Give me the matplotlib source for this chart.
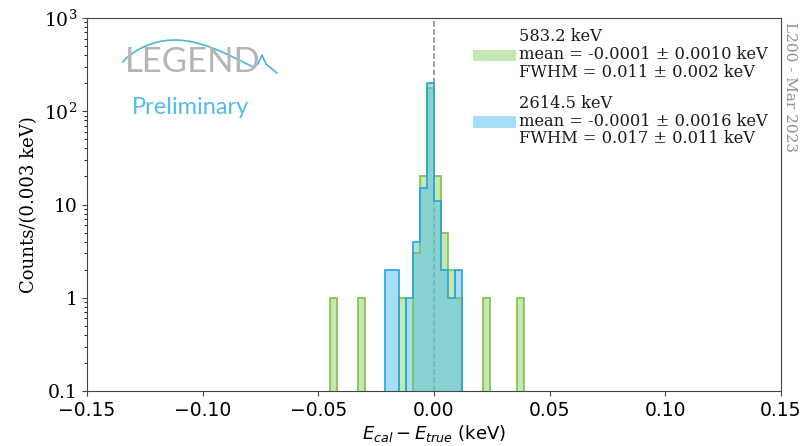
import numpy as np
import matplotlib
matplotlib.use('Agg')
import matplotlib.pyplot as plt
from matplotlib.patches import Patch
from matplotlib.lines import Line2D
from matplotlib.ticker import FixedLocator, FixedFormatter, LogLocator, NullFormatter

plt.rcParams['font.family'] = 'DejaVu Serif'
plt.rcParams['mathtext.fontset'] = 'dejavusans'

# bins de 0.003 keV entre -0.045 y 0.039 keV
bin_lo = -0.045
bin_w = 0.003
n_bins = 28

# cuentas por bin
cuentas_583 = [1, 0, 0, 0, 1, 0, 0, 0, 0, 0, 1, 0, 3, 20, 176, 20, 5, 2, 1, 0, 0, 0, 1, 0, 0, 0, 0, 1]
cuentas_2614 = [0, 0, 0, 0, 0, 0, 0, 0, 2, 2, 0, 1, 4, 15, 199, 11, 2, 1, 2, 0, 0, 0, 0, 0, 0, 0, 0, 0]

etiqueta_583 = '583.2 keV\nmean = -0.0001 ± 0.0010 keV\nFWHM = 0.011 ± 0.002 keV'
etiqueta_2614 = '2614.5 keV\nmean = -0.0001 ± 0.0016 keV\nFWHM = 0.017 ± 0.011 keV'

xticks = [-0.15, -0.10, -0.05, 0.00, 0.05, 0.10, 0.15]
yticks = [0.1, 1, 10, 100, 1000]
yticklabels = ['0.1', '1', '10', r'$\mathdefault{10^2}$', r'$\mathdefault{10^3}$']

verde_borde = '#7cc24a'
verde_relleno = '#8fd16a'
azul_borde = '#27a4dc'
azul_relleno = '#4cc0f0'

edges = bin_lo + bin_w * np.arange(n_bins + 1)
centros = edges[:-1] + bin_w / 2

fig = plt.figure(figsize=(8.01, 4.46), dpi=100)
ax = fig.add_axes([0.1086, 0.1233, 0.8664, 0.8363])

ax.hist(centros, bins=edges, weights=cuentas_583, histtype='stepfilled', log=True,
        facecolor=verde_relleno, alpha=0.5)
ax.hist(centros, bins=edges, weights=cuentas_583, histtype='step', log=True,
        edgecolor=verde_borde, linewidth=1.2)
ax.hist(centros, bins=edges, weights=cuentas_2614, histtype='stepfilled', log=True,
        facecolor=azul_relleno, alpha=0.5)
ax.hist(centros, bins=edges, weights=cuentas_2614, histtype='step', log=True,
        edgecolor=azul_borde, linewidth=1.2)

ax.axvline(0, color='#888888', linestyle='--', linewidth=1.1, zorder=0.5)

ax.set_xlim(-0.15, 0.15)
ax.set_ylim(0.1, 1000)
ax.set_yscale('log')
ax.yaxis.set_major_locator(FixedLocator(yticks))
ax.yaxis.set_major_formatter(FixedFormatter(yticklabels))
ax.yaxis.set_minor_locator(LogLocator(base=10, subs=np.arange(2, 10)))
ax.yaxis.set_minor_formatter(NullFormatter())
ax.set_xticks(xticks)
ax.set_xticklabels(['−0.15', '−0.10', '−0.05', '0.00', '0.05', '0.10', '0.15'],
                   family='DejaVu Sans')
ax.tick_params(axis='both', labelsize=13.5, color='#444444')
ax.tick_params(axis='y', which='minor', length=2)
for sp in ax.spines.values():
    sp.set_color('#444444')

ax.set_ylabel('Counts/(0.003 keV)', fontsize=13)
ax.set_xlabel(r'$E_{cal} - E_{true}$ (keV)', fontsize=13, family='DejaVu Sans', labelpad=2)

handles = [Patch(facecolor=verde_relleno, alpha=0.5, edgecolor='none'),
           Patch(facecolor=azul_relleno, alpha=0.5, edgecolor='none')]
leg = ax.legend(handles, [etiqueta_583, etiqueta_2614], loc='upper right',
                bbox_to_anchor=(0.99, 0.99), borderaxespad=0, frameon=False,
                fontsize=11.7, handlelength=2.6, handletextpad=0.2, labelspacing=0.9)
for txt in leg.get_texts():
    txt.set_color('#1a1a1a')
    txt.set_linespacing(1.05)

# texto lateral
fig.text(0.986, 0.95, 'L200 - Mar 2023', rotation=270, ha='center', va='top',
         color='#909090', fontsize=11)

# logo LEGEND
fig.text(125 / 801, 1 - 72 / 446, 'LEGEND', fontsize=25, color='#b5b5b5',
         family='Lato', weight='normal', ha='left', va='baseline')
t = np.linspace(0, 1, 60)
wx = 123 + 130 * t
wy = 62 - 24 * np.sin(np.pi * t ** 0.8) + 5 * t
wx = np.concatenate([wx, [258, 262, 266, 277]])
wy = np.concatenate([wy, [64, 55, 64, 73]])
fig.add_artist(Line2D(wx / 801, 1 - wy / 446, color='#4ab4e6', linewidth=1.2))
fig.text(132 / 801, 1 - 114 / 446, 'Preliminary', fontsize=17, color='#55bbe8',
         family='Lato', weight='normal', ha='left', va='baseline')

fig.savefig('out.png', dpi=100)
